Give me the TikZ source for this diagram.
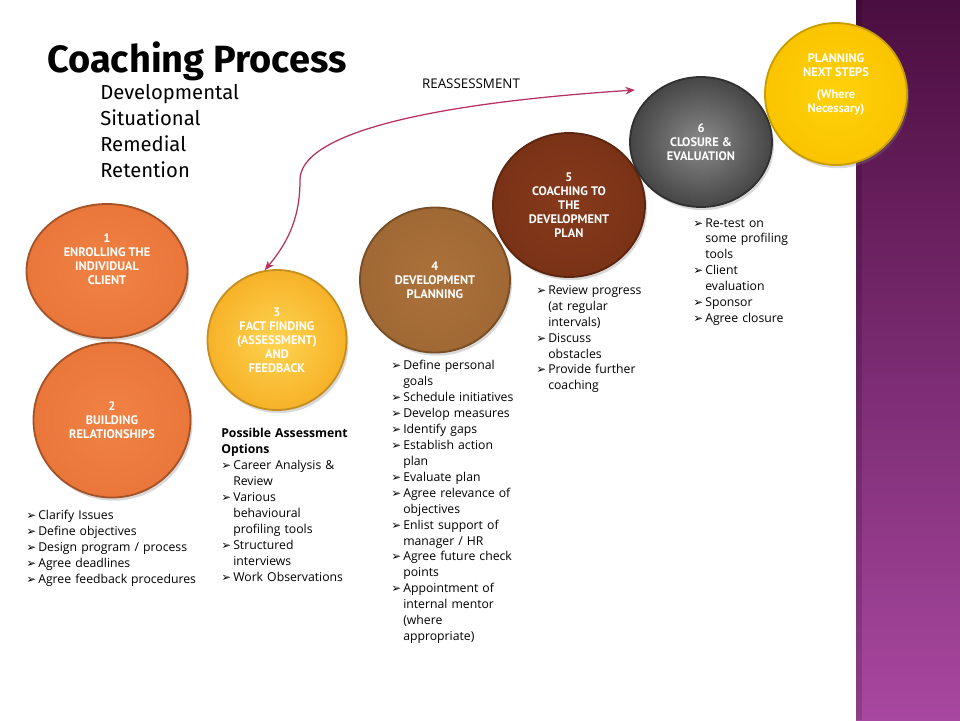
\documentclass[tikz,border=0pt]{standalone}
\usepackage{fontspec}
\setmainfont{Open Sans}
\newfontfamily\titlefont{Fira Sans}
\newfontfamily\stagefont{PT Sans}
\newfontfamily\bulfont{DejaVu Sans}
\usetikzlibrary{shapes.geometric,shadows,arrows.meta}

\definecolor{bandtop}{RGB}{75,14,64}
\definecolor{bandbot}{RGB}{168,72,160}
\definecolor{arrowc}{RGB}{180,50,100}
\definecolor{orangeA}{RGB}{234,118,58}
\definecolor{orangeB}{RGB}{240,130,68}
\definecolor{goldA}{RGB}{246,178,40}
\definecolor{goldB}{RGB}{255,212,80}
\definecolor{brownA}{RGB}{160,104,52}
\definecolor{brownB}{RGB}{172,114,60}
\definecolor{rustA}{RGB}{122,50,22}
\definecolor{rustB}{RGB}{134,58,28}
\definecolor{greyA}{RGB}{70,70,70}
\definecolor{greyB}{RGB}{138,138,138}
\definecolor{yellowA}{RGB}{250,196,0}
\definecolor{yellowB}{RGB}{255,210,10}

\newcommand{\bul}{\makebox[3mm][l]{\bulfont\fontsize{8.4}{11}\selectfont\char"27A2}}
\newcommand{\ind}{\hspace*{3mm}}

\begin{document}
\begin{tikzpicture}[x=0.25mm, y=-0.25mm,
    stage/.style={ellipse, inner sep=0pt, line width=1.3pt, text=white, align=center,
        drop shadow={opacity=0.3, shadow xshift=0.5mm, shadow yshift=-0.8mm},
        font=\stagefont\bfseries\fontsize{8.8}{10}\selectfont},
    bullets/.style={anchor=north west, inner sep=0pt, align=left, text width=55mm,
        font=\fontsize{8.7}{11.34}\selectfont},
    link/.style={{Stealth[length=2.4mm,width=1.9mm]}-{Stealth[length=2.4mm,width=1.9mm]},
        line width=0.9pt, draw=arrowc}
]
    \useasboundingbox (0,0) rectangle (960,720);
    % side band
    \shade[top color=bandtop, bottom color=bandbot] (856,0) rectangle (960,720);
    \fill[black, opacity=0.15] (856,0) rectangle (862,720);

    % title
    \node[anchor=base west, inner sep=0pt, font=\titlefont\bfseries\fontsize{27}{30}\selectfont] (title) at (47,72) {Coaching Process};
    \node[anchor=north west, inner sep=0pt, align=left, font=\titlefont\fontsize{14.4}{18.4}\selectfont] (types) at (100,84)
        {Developmental\\Situational\\Remedial\\Retention};

    % stages
    \node[stage, minimum width=40.25mm, minimum height=33.5mm, draw=orangeA!70!black, inner color=orangeB, outer color=orangeA] (c1) at (107,271)
        {1\\ENROLLING THE\\INDIVIDUAL\\CLIENT\\[1.5ex]};
    \node[stage, minimum width=39.25mm, minimum height=38.75mm, draw=orangeA!70!black, inner color=orangeB, outer color=orangeA] (c2) at (112,420)
        {2\\BUILDING\\RELATIONSHIPS};
    \node[stage, minimum width=34.75mm, minimum height=35mm, draw=goldA!80!black, inner color=goldB, outer color=goldA] (c3) at (277,340)
        {3\\FACT FINDING\\(ASSESSMENT)\\AND\\FEEDBACK};
    \node[stage, minimum width=37.5mm, minimum height=36.25mm, draw=brownA!75!black, inner color=brownB, outer color=brownA] (c4) at (435,280)
        {4\\DEVELOPMENT\\PLANNING};
    \node[stage, minimum width=38mm, minimum height=36mm, draw=rustA!75!black, inner color=rustB, outer color=rustA] (c5) at (569,205)
        {5\\COACHING TO\\THE\\DEVELOPMENT\\PLAN};
    \node[stage, minimum width=35.5mm, minimum height=32.5mm, draw=greyA!70!black, inner color=greyB, outer color=greyA] (c6) at (701,142)
        {6\\CLOSURE \&\\EVALUATION};
    \node[stage, minimum width=35.5mm, minimum height=35.5mm, draw=yellowA!80!black, inner color=yellowB, outer color=yellowA] (c7) at (836,94)
        {PLANNING\\NEXT STEPS\\[1.2ex](Where\\Necessary)\\[1.2ex]};

    % reassessment loop
    \coordinate (reEnd) at (635,90);
    \draw[link] (c3.100) .. controls (290,240) and (300,215) .. (300,180)
        .. controls (300,135) and (420,104) .. (reEnd);
    \node[font=\fontsize{9.5}{11}\selectfont] (re) at (471,84) {REASSESSMENT};

    % activity lists
    \node[bullets] (l1) at (26,510)
        {\bul Clarify Issues\\\bul Define objectives\\\bul Design program / process\\\bul Agree deadlines\\\bul Agree feedback procedures};
    \node[bullets] (l3) at (221,428)
        {\textbf{Possible Assessment}\\\textbf{Options}\\\bul Career Analysis \&\\\ind Review\\\bul Various\\\ind behavioural\\\ind profiling tools\\\bul Structured\\\ind interviews\\\bul Work Observations};
    \node[bullets] (l4) at (391,360)
        {\bul Define personal\\\ind goals\\\bul Schedule initiatives\\\bul Develop measures\\\bul Identify gaps\\\bul Establish action\\\ind plan\\\bul Evaluate plan\\\bul Agree relevance of\\\ind objectives\\\bul Enlist support of\\\ind manager / HR\\\bul Agree future check\\\ind points\\\bul Appointment of\\\ind internal mentor\\\ind (where\\\ind appropriate)};
    \node[bullets] (l5) at (536,285)
        {\bul Review progress\\\ind (at regular\\\ind intervals)\\\bul Discuss\\\ind obstacles\\\bul Provide further\\\ind coaching};
    \node[bullets] (l6) at (693,218)
        {\bul Re-test on\\\ind some profiling\\\ind tools\\\bul Client\\\ind evaluation\\\bul Sponsor\\\bul Agree closure};
\end{tikzpicture}
\end{document}
